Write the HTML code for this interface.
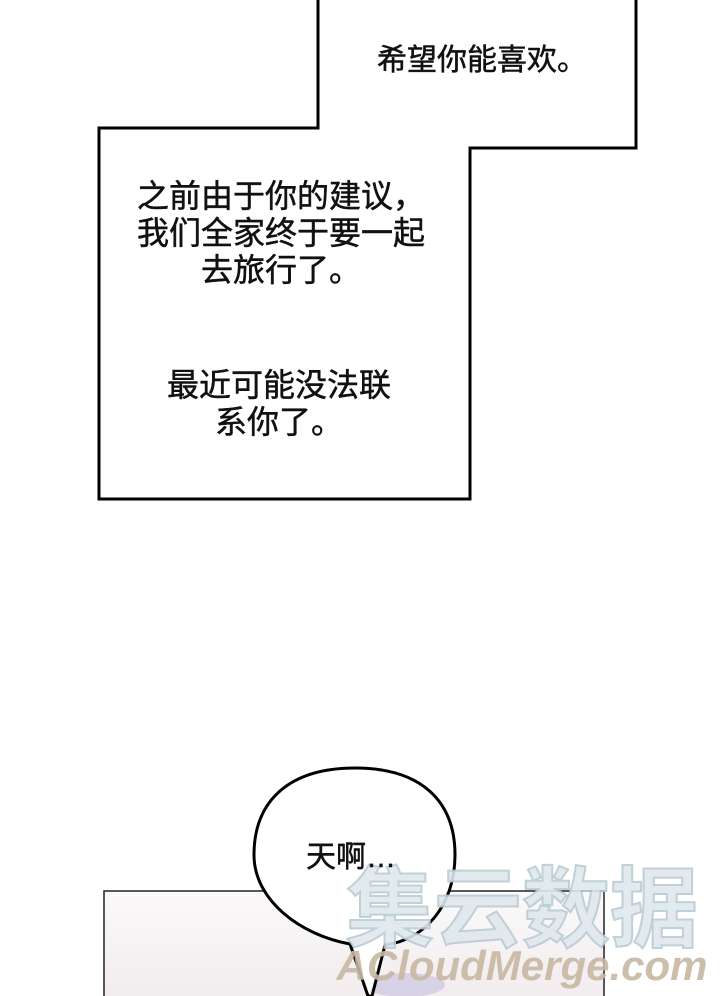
<!DOCTYPE html>
<html><head><meta charset="utf-8"><style>
html,body{margin:0;padding:0;}
body{width:720px;height:996px;position:relative;overflow:hidden;background:#fff;font-family:"Liberation Sans","Noto Sans CJK SC",sans-serif;color:#111;}
.t{position:absolute;white-space:nowrap;text-align:center;-webkit-text-stroke:0.5px #111;}
</style></head><body>
<svg width="720" height="996" style="position:absolute;left:0;top:0">
<defs>
<linearGradient id="g" x1="0" y1="0" x2="0" y2="1">
<stop offset="0" stop-color="#fbf9f9"/><stop offset="1" stop-color="#f1ecee"/>
</linearGradient>
</defs>
<polygon points="318,-5 318,128 99,128 99,499 470,499 470,148 636,148 636,-5" fill="#fff" stroke="#000" stroke-width="3"/>
<rect x="104" y="891" width="500" height="110" fill="url(#g)" stroke="#222" stroke-width="1.5"/>
<ellipse cx="405" cy="985" rx="40" ry="12" fill="#d8d2e6"/>
<path d="M350,944 C300,935 254,900 254,855 C254,800 290,768 355,768 C420,768 455,800 455,855 C455,905 425,940 385,945 L372,996 L368,996 Z" fill="#fff" stroke="#000" stroke-width="3" stroke-linejoin="round"/>
<text x="522" y="940" font-family="Liberation Sans,Noto Sans CJK SC,sans-serif" font-size="88" font-weight="bold" fill="#dfe8ec" stroke="#b9cbd4" stroke-width="2" text-anchor="middle" opacity="0.9">集云数据</text>
<text x="522" y="980" font-family="Liberation Sans,sans-serif" font-size="42" font-weight="bold" font-style="italic" fill="#c8b8a4" text-anchor="middle" opacity="0.9">ACloudMerge.com</text>
</svg>
<div class="t" style="left:377px;top:42px;font-size:30px;line-height:38px;text-align:left;">希望你能喜欢。</div>
<div class="t" style="width:370px;top:178px;font-size:32px;line-height:37px;left:96px;">之前由于你的建议，<br>我们全家终于要一起<br>去旅行了。</div>
<div class="t" style="left:94px;width:370px;top:367px;font-size:32px;line-height:37px;">最近可能没法联<br>系你了。</div>
<div class="t" style="left:306px;top:840px;font-size:30px;line-height:36px;text-align:left;">天啊…</div>
</body></html>
